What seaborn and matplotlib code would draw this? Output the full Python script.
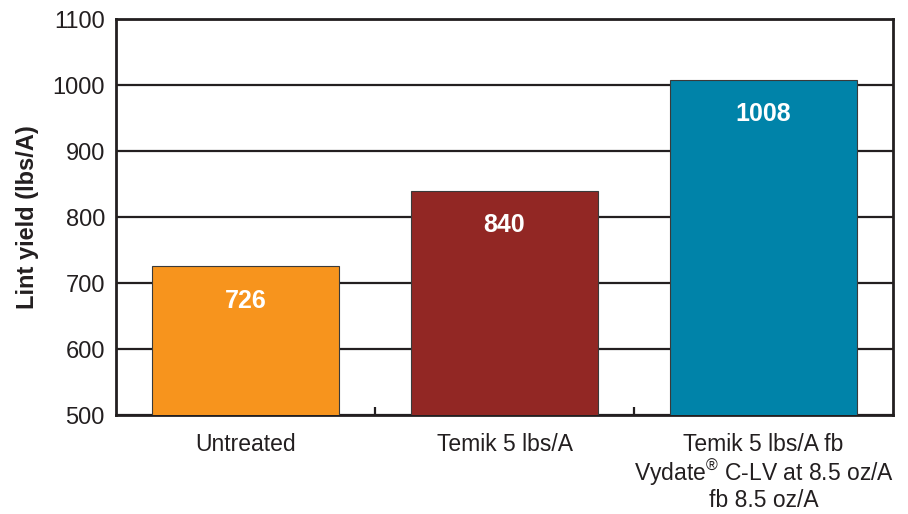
import pandas as pd
import seaborn as sns
import matplotlib
matplotlib.use("Agg")
import matplotlib.pyplot as plt

# data
treatments = ["Untreated", "Temik 5 lbs/A", "Temik 5 lbs/A fb\nVydate$^{®}$ C-LV at 8.5 oz/A\nfb 8.5 oz/A"]
lint_yield = [726, 840, 1008]
bar_colors = ["#F7941D", "#922724", "#0083A9"]
y_ticks = [500, 600, 700, 800, 900, 1000, 1100]

df = pd.DataFrame({"treatment": treatments, "yield": lint_yield})

sns.set_style("white")
plt.rcParams["font.family"] = ["Liberation Sans", "DejaVu Sans"]
plt.rcParams["mathtext.fontset"] = "custom"
plt.rcParams["mathtext.rm"] = "Liberation Sans"
plt.rcParams["mathtext.it"] = "Liberation Sans"
plt.rcParams["mathtext.default"] = "rm"

fig = plt.figure(figsize=(9.08, 5.14), dpi=100)
ax = fig.add_axes([0.1278, 0.1926, 0.8557, 0.7704])

sns.barplot(data=df, x="treatment", y="yield", hue="treatment",
            palette=bar_colors, saturation=1, legend=False, width=0.72,
            edgecolor="#3a3a3a", linewidth=0.8, zorder=3, ax=ax)

ax.set_ylim(500, 1100)
ax.set_xlim(-0.5, 2.5)
ax.set_yticks(y_ticks)
ax.yaxis.grid(True, color="#231f20", linewidth=1.6, zorder=0)
ax.set_axisbelow(True)

for s in ax.spines.values():
    s.set_color("#231f20")
    s.set_linewidth(2)
    s.set_visible(True)

ax.tick_params(axis="y", length=0, labelsize=17, pad=8, labelcolor="#231f20")
ax.tick_params(axis="x", length=0, labelsize=16.5, pad=13, labelcolor="#231f20")
for lbl in ax.get_xticklabels():
    lbl.set_linespacing(1.08)

# small inward ticks at category boundaries
ax.set_xticks([0.5, 1.5], minor=True)
ax.tick_params(axis="x", which="minor", bottom=True, direction="in",
               length=6, width=1.6, color="#231f20")

ax.set_xlabel("")
ax.set_ylabel("Lint yield (lbs/A)", fontsize=17, fontweight="bold", labelpad=10, color="#231f20")

for i, v in enumerate(lint_yield):
    ax.annotate(str(v), (i, v), xytext=(0, -25), textcoords="offset points",
                ha="center", va="center", color="white", fontsize=18, fontweight="bold", zorder=5)

fig.savefig("out.png", dpi=100)
plt.close(fig)
